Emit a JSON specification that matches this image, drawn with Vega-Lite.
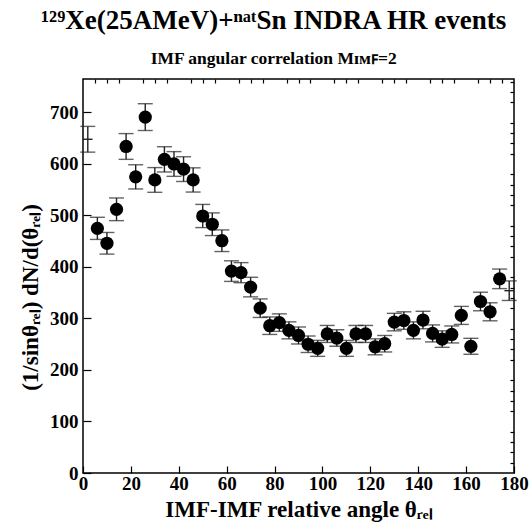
{
  "$schema": "https://vega.github.io/schema/vega-lite/v6.json",
  "width": 431,
  "height": 394,
  "autosize": "none",
  "padding": {"left": 83, "top": 79, "right": 15, "bottom": 57},
  "background": "white",
  "config": {
    "view": {"stroke": "black", "strokeWidth": 1.5},
    "font": "Liberation Serif",
    "axis": {
      "labelFont": "Liberation Serif", "labelFontWeight": "bold", "labelFontSize": 19, "labelColor": "black",
      "titleFont": "Liberation Serif", "titleFontWeight": "bold", "titleFontSize": 23, "titleColor": "black",
      "grid": false, "domain": false, "tickColor": "black", "tickWidth": 1.2
    }
  },
  "title": {
    "text": "¹²⁹Xe(25AMeV)+ⁿᵃᵗSn INDRA HR events",
    "subtitle": "IMF angular correlation Mɪᴍꜰ=2",
    "anchor": "middle",
    "frame": "bounds",
    "font": "Liberation Serif",
    "fontSize": 27,
    "fontWeight": "bold",
    "color": "black",
    "subtitleFont": "Liberation Serif",
    "subtitleFontSize": 17.5,
    "subtitleFontWeight": "bold",
    "subtitleColor": "black",
    "subtitlePadding": 15,
    "offset": 10
  },
  "datasets": {
    "filled": [
      {"theta": 6, "n": 475, "err": 21.5},
      {"theta": 10, "n": 446, "err": 21},
      {"theta": 14, "n": 512, "err": 22},
      {"theta": 18, "n": 634, "err": 25},
      {"theta": 22, "n": 575, "err": 23.5},
      {"theta": 26, "n": 691, "err": 26},
      {"theta": 30, "n": 569, "err": 24},
      {"theta": 34, "n": 609, "err": 24.5},
      {"theta": 38, "n": 600, "err": 24},
      {"theta": 42, "n": 590, "err": 24},
      {"theta": 46, "n": 569, "err": 23.5},
      {"theta": 50, "n": 499, "err": 22.5},
      {"theta": 54, "n": 483, "err": 22},
      {"theta": 58, "n": 451, "err": 21},
      {"theta": 62, "n": 392, "err": 20},
      {"theta": 66, "n": 389, "err": 19.5},
      {"theta": 70, "n": 361, "err": 19},
      {"theta": 74, "n": 320, "err": 18},
      {"theta": 78, "n": 286, "err": 17},
      {"theta": 82, "n": 292, "err": 17},
      {"theta": 86, "n": 277, "err": 16.5},
      {"theta": 90, "n": 267, "err": 16.5},
      {"theta": 94, "n": 250, "err": 16},
      {"theta": 98, "n": 242, "err": 15.5},
      {"theta": 102, "n": 270, "err": 16.5},
      {"theta": 106, "n": 262, "err": 16},
      {"theta": 110, "n": 242, "err": 15.5},
      {"theta": 114, "n": 270, "err": 16.5},
      {"theta": 118, "n": 270, "err": 16.5},
      {"theta": 122, "n": 245, "err": 15.5},
      {"theta": 126, "n": 251, "err": 16},
      {"theta": 130, "n": 293, "err": 17},
      {"theta": 134, "n": 296, "err": 17},
      {"theta": 138, "n": 277, "err": 16.5},
      {"theta": 142, "n": 297, "err": 17},
      {"theta": 146, "n": 271, "err": 16.5},
      {"theta": 150, "n": 260, "err": 16},
      {"theta": 154, "n": 269, "err": 16.5},
      {"theta": 158, "n": 306, "err": 17.5},
      {"theta": 162, "n": 246, "err": 15.5},
      {"theta": 166, "n": 333, "err": 18},
      {"theta": 170, "n": 313, "err": 17.5},
      {"theta": 174, "n": 377, "err": 19}
    ],
    "open": [
      {"theta": 2, "n": 648, "err": 25, "xerr": 2},
      {"theta": 178, "n": 354, "err": 19, "xerr": 2}
    ]
  },
  "resolve": {"axis": {"x": "independent", "y": "independent"}},
  "layer": [
    {
      "data": {"name": "filled"},
      "mark": {"type": "errorbar", "ticks": {"size": 15, "thickness": 1.4}, "thickness": 1.4, "color": "#222"},
      "encoding": {
        "x": {
          "field": "theta", "type": "quantitative",
          "scale": {"domain": [0, 180], "nice": false, "zero": false},
          "axis": {
            "values": [0, 20, 40, 60, 80, 100, 120, 140, 160, 180],
            "tickSize": -7, "labelPadding": 8, "labelFlush": false, "labelOverlap": false,
            "title": "IMF-IMF relative angle θᵣₑₗ",
            "titleY": 43, "titleBaseline": "alphabetic"
          }
        },
        "y": {
          "field": "n", "type": "quantitative",
          "scale": {"domain": [0, 765], "nice": false, "zero": false},
          "axis": {
            "values": [0, 100, 200, 300, 400, 500, 600, 700],
            "tickSize": -8, "labelPadding": 13, "labelFlush": false, "labelOverlap": false,
            "title": "(1/sinθᵣₑₗ) dN/d(θᵣₑₗ)",
            "titleX": -53, "titleY": 218, "titleAngle": -90,
            "titleBaseline": "middle", "titleAlign": "center"
          }
        },
        "yError": {"field": "err"}
      }
    },
    {
      "data": {"name": "filled"},
      "mark": {"type": "point", "filled": true, "shape": "circle", "size": 175, "color": "black", "opacity": 1},
      "encoding": {
        "x": {
          "field": "theta", "type": "quantitative",
          "axis": {
            "values": [5, 10, 15, 25, 30, 35, 45, 50, 55, 65, 70, 75, 85, 90, 95, 105, 110, 115, 125, 130, 135, 145, 150, 155, 165, 170, 175],
            "tickSize": -4, "labels": false, "title": null, "domain": false
          }
        },
        "y": {
          "field": "n", "type": "quantitative",
          "axis": {
            "values": [20, 40, 60, 80, 120, 140, 160, 180, 220, 240, 260, 280, 320, 340, 360, 380, 420, 440, 460, 480, 520, 540, 560, 580, 620, 640, 660, 680, 720, 740, 760],
            "tickSize": -4, "labels": false, "title": null, "domain": false
          }
        }
      }
    },
    {
      "data": {"name": "open"},
      "mark": {"type": "errorbar", "ticks": {"size": 15, "thickness": 1.4}, "thickness": 1.4, "color": "#222"},
      "encoding": {
        "x": {"field": "theta", "type": "quantitative", "axis": null},
        "y": {"field": "n", "type": "quantitative", "axis": null},
        "yError": {"field": "err"}
      }
    },
    {
      "data": {"name": "open"},
      "mark": {"type": "errorbar", "thickness": 1.4, "color": "#222"},
      "encoding": {
        "x": {"field": "theta", "type": "quantitative", "axis": null},
        "xError": {"field": "xerr"},
        "y": {"field": "n", "type": "quantitative", "axis": null}
      }
    }
  ]
}
